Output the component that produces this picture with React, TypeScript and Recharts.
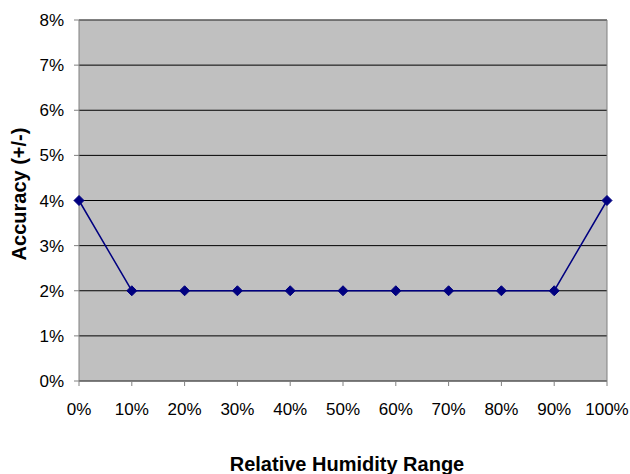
import React from "react";
import {
  LineChart,
  Line,
  XAxis,
  YAxis,
  CartesianGrid,
  ReferenceLine,
  Label,
} from "recharts";

// Relative humidity (%) and sensor accuracy (+/- %)
const humidity = [0, 10, 20, 30, 40, 50, 60, 70, 80, 90, 100];
const accuracy = [4, 2, 2, 2, 2, 2, 2, 2, 2, 2, 4];
const xTicks = [0, 10, 20, 30, 40, 50, 60, 70, 80, 90, 100];
const yTicks = [0, 1, 2, 3, 4, 5, 6, 7, 8];

const data = humidity.map((h, i) => ({ rh: h, acc: accuracy[i] }));

const FONT = "'Liberation Sans', Arial, sans-serif";
const NAVY = "#000080";
const AXIS_GRAY = "#808080";

const Diamond = (props: any) => {
  const { cx, cy } = props;
  if (cx == null || cy == null) return null;
  const r = 5;
  return (
    <polygon
      points={`${cx},${cy - r} ${cx + r},${cy} ${cx},${cy + r} ${cx - r},${cy}`}
      fill={NAVY}
      stroke={NAVY}
    />
  );
};

const App = () => {
  return (
    <div style={{ position: "absolute", left: 0, top: 0, width: 630, height: 474, background: "#fff" }}>
      <LineChart
        width={630}
        height={474}
        data={data}
        margin={{ top: 20, right: 23, left: 19, bottom: 63 }}
        style={{ fontFamily: FONT }}
      >
        <CartesianGrid
          vertical={false}
          stroke="#000"
          fill="#C0C0C0"
          fillOpacity={1}
        />
        <XAxis
          dataKey="rh"
          type="number"
          domain={[0, 100]}
          ticks={xTicks}
          tickFormatter={(v) => `${v}%`}
          height={30}
          tickSize={5}
          tickMargin={17}
          stroke={AXIS_GRAY}
          tick={{ fill: "#000", fontSize: 17, fontFamily: FONT }}
          interval={0}
        >
          <Label
            content={() => (
              <text
                x={347}
                y={471}
                textAnchor="middle"
                fontFamily={FONT}
                fontSize={20}
                fontWeight="bold"
                fill="#000"
              >
                Relative Humidity Range
              </text>
            )}
          />
        </XAxis>
        <YAxis
          type="number"
          domain={[0, 8]}
          ticks={yTicks}
          tickFormatter={(v) => `${v}%`}
          width={60}
          tickSize={5}
          tickMargin={10}
          stroke={AXIS_GRAY}
          tick={{ fill: "#000", fontSize: 17, fontFamily: FONT }}
          interval={0}
        >
          <Label
            content={() => (
              <text
                x={26}
                y={194}
                transform="rotate(-90 26 194)"
                textAnchor="middle"
                fontFamily={FONT}
                fontSize={20}
                fontWeight="bold"
                fill="#000"
              >
                Accuracy (+/-)
              </text>
            )}
          />
        </YAxis>
        <ReferenceLine x={100} stroke={AXIS_GRAY} />
        <ReferenceLine y={8} stroke={AXIS_GRAY} />
        <Line
          type="linear"
          dataKey="acc"
          stroke={NAVY}
          strokeWidth={1.5}
          dot={<Diamond />}
          activeDot={false}
          isAnimationActive={false}
        />
      </LineChart>
    </div>
  );
};

export default App;
